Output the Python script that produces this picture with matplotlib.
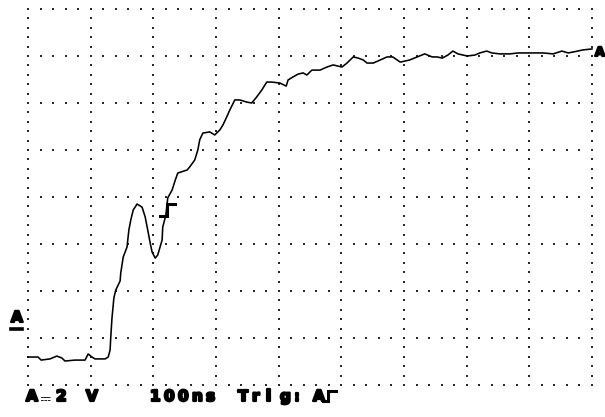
"""Scope capture: step response of channel A, 2 V/div, 100 ns/div."""

import matplotlib.pyplot as plt
import matplotlib.patheffects as pe
from matplotlib import font_manager
from matplotlib.ft2font import FT2Font
from matplotlib.lines import Line2D

W, H = 605, 417

# channel A trace: time (ns) and voltage (V, bottom graticule line = 0 V)
time_ns = [
    0, 16, 21, 35, 46, 54, 59, 75, 91, 96, 102, 107, 123, 128, 131, 132,
    134, 136, 137, 140, 144, 147, 148, 152, 158, 161, 164, 168, 174, 182,
    187, 191, 195, 198, 203, 207, 214, 215, 220, 223, 230, 235, 239, 254,
    258, 266, 271, 274, 279, 290, 298, 306, 311, 317, 322, 330, 338, 349,
    357, 365, 373, 381, 389, 402, 412, 415, 423, 431, 439, 445, 453, 466,
    477, 487, 501, 509, 519, 527, 535, 541, 551, 562, 573, 582, 594, 609,
    621, 633, 645, 653, 661, 670, 678, 686, 701, 713, 721, 732, 740, 753,
    769, 782, 796, 806, 822, 838, 852, 862, 870, 886, 900,
]
volts = [
    1.19, 1.19, 1.06, 1.11, 1.23, 1.15, 1.02, 1.06, 1.06, 1.32, 1.19, 1.11,
    1.11, 1.19, 1.49, 2.00, 2.85, 3.40, 3.70, 4.04, 4.26, 4.43, 4.77, 5.45,
    5.87, 6.60, 7.02, 7.45, 7.70, 7.57, 7.15, 6.60, 6.04, 5.66, 5.40, 5.53,
    6.17, 6.72, 7.23, 7.96, 8.30, 8.72, 9.02, 9.15, 9.28, 9.57, 10.00, 10.43,
    10.72, 10.77, 10.64, 10.85, 11.06, 11.40, 11.70, 12.13, 12.13, 12.04,
    12.00, 12.26, 12.55, 12.89, 12.89, 12.85, 12.72, 12.98, 13.11, 13.23,
    13.28, 13.19, 13.40, 13.40, 13.53, 13.62, 13.53, 13.70, 13.96, 13.91,
    13.83, 13.70, 13.70, 13.83, 13.96, 13.96, 13.74, 13.83, 13.96, 14.09,
    13.96, 13.96, 13.91, 14.04, 14.21, 14.09, 14.00, 14.04, 14.13, 14.21,
    14.13, 14.09, 14.09, 14.13, 14.13, 14.13, 14.13, 14.09, 14.21, 14.13,
    14.17, 14.26, 14.30,
]

time_per_div = 100
volts_per_div = 2
n_xdiv, n_ydiv = 9, 8

trig_time_ns = 222
trig_level_v = 7.45

DC_SIGN = "\u2393"
status_chunks = [("A", 26, 15), ("2", 56, 15), ("V", 86, 15),
                 ("100ns", 150, 14), ("Trig:", 238, 14), ("A", 313, 14)]


def fx(px):
    return px / W


def fy(py):
    return (H - py) / H


def font_file_with(char):
    """Path of the first installed font file that has a glyph for char."""
    for entry in font_manager.fontManager.ttflist:
        try:
            if ord(char) in FT2Font(entry.fname).get_charmap():
                return entry.fname
        except Exception:
            continue
    return None


fig = plt.figure(figsize=(W / 100, H / 100), dpi=100)
fig.patch.set_facecolor("white")
ax = fig.add_axes([fx(28), fy(385), 564 / W, 376 / H])
ax.set_xlim(0, n_xdiv * time_per_div)
ax.set_ylim(0, n_ydiv * volts_per_div)
ax.axis("off")

# dotted graticule: 5 dots per division along every major line
gx, gy = [], []
for i in range(n_xdiv + 1):
    for j in range(n_ydiv * 5 + 1):
        gx.append(i * time_per_div)
        gy.append(j * volts_per_div / 5)
for j in range(n_ydiv + 1):
    for i in range(n_xdiv * 5 + 1):
        gx.append(i * time_per_div / 5)
        gy.append(j * volts_per_div)
ax.scatter(gx, gy, s=2.2, marker="s", color="#2a2a2a", linewidths=0,
           clip_on=False, zorder=1)

ax.plot(time_ns, volts, color="black", lw=1.15, clip_on=False, zorder=3)

# trigger marker (rising edge)
tx0, ty0 = ax.transData.transform((trig_time_ns, trig_level_v))
edge_px = [(tx0 - 7, ty0 - 6), (tx0, ty0 - 6), (tx0, ty0 + 6), (tx0 + 8, ty0 + 6)]
fig.add_artist(Line2D([p[0] / W for p in edge_px], [p[1] / H for p in edge_px],
                      transform=fig.transFigure, color="black", lw=2.2,
                      solid_joinstyle="miter", zorder=4))

chunky = [pe.withStroke(linewidth=1.6, foreground="black")]
font = dict(family=["DejaVu Sans", "Noto Sans"], weight="bold", size=11,
            color="black", path_effects=chunky)

# channel A ground reference on the left, trace label on the right
fig.text(fx(11), fy(322), "A", ha="left", va="baseline", **font)
fig.add_artist(Line2D([fx(11), fx(22)], [fy(328.5), fy(328.5)],
                      transform=fig.transFigure, color="black", lw=2.6))
fig.text(fx(595), fy(56), "A", ha="left", va="baseline",
         **{**font, "size": 9})

# status line
for text, x0, pitch in status_chunks:
    for k, ch in enumerate(text):
        fig.text(fx(x0 + k * pitch), fy(401), ch, ha="left", va="baseline",
                 **font)

# DC coupling sign after the channel name
dc_file = font_file_with(DC_SIGN)
if dc_file:
    fig.text(fx(40), fy(401), DC_SIGN, ha="left", va="baseline",
             fontproperties=font_manager.FontProperties(fname=dc_file, size=9),
             color="black")
else:
    fig.add_artist(Line2D([fx(41), fx(49)], [fy(395), fy(395)],
                          transform=fig.transFigure, color="black", lw=1.5))
    fig.add_artist(Line2D([fx(41), fx(49)], [fy(399), fy(399)],
                          transform=fig.transFigure, color="black", lw=1.2,
                          ls=(0, (1, 1.2))))

# rising-edge glyph after the trigger source
sx = 326
edge_px = [(sx - 3, 401), (sx + 2, 401), (sx + 2, 391), (sx + 10, 391)]
fig.add_artist(Line2D([fx(p[0]) for p in edge_px], [fy(p[1]) for p in edge_px],
                      transform=fig.transFigure, color="black", lw=2.2,
                      solid_joinstyle="miter"))

fig.savefig("out.png", dpi=100, facecolor="white")
